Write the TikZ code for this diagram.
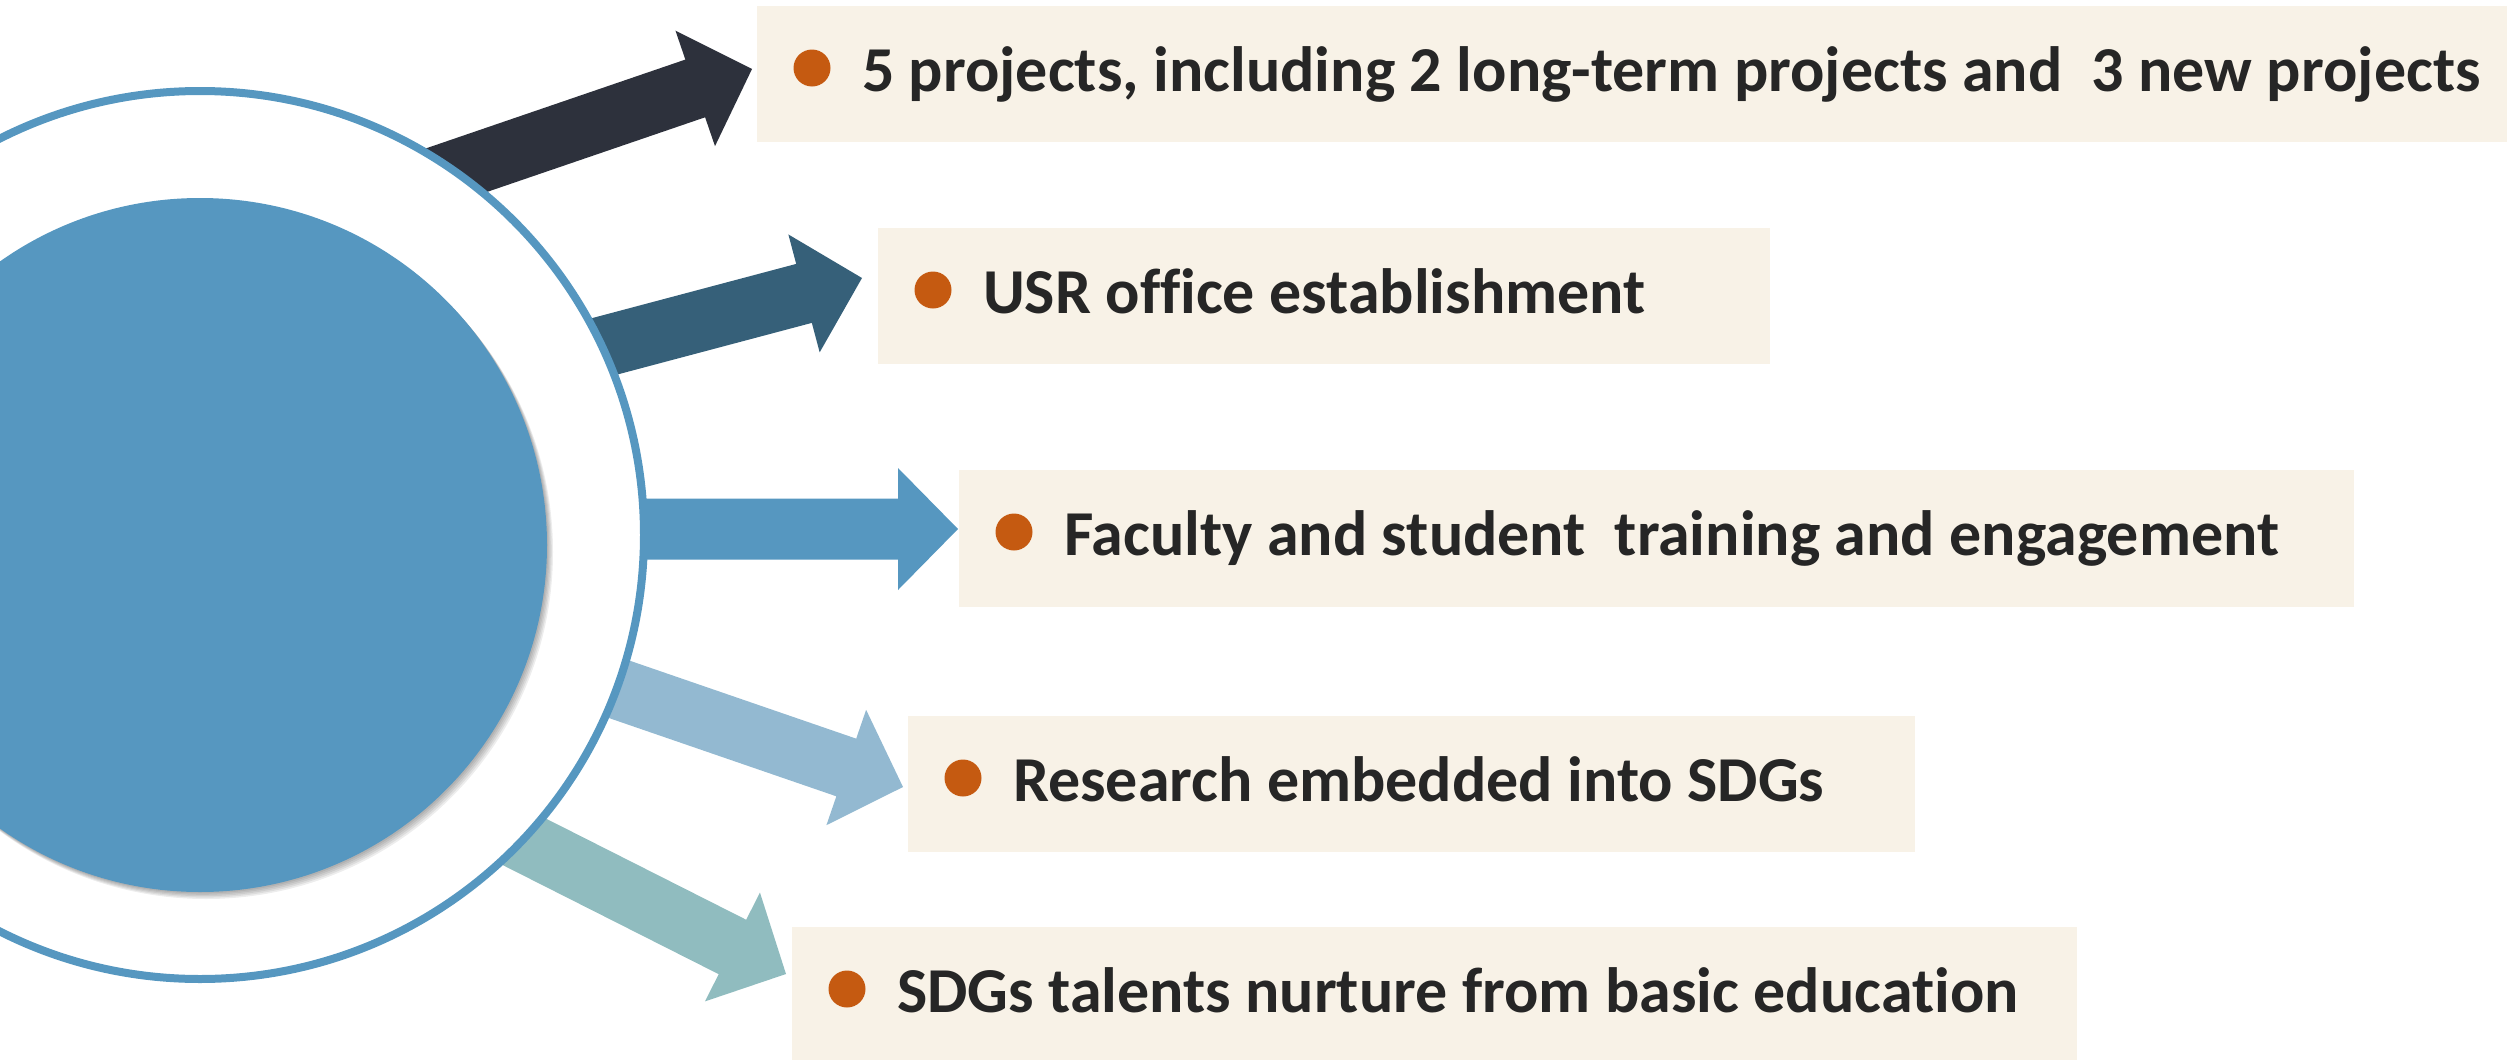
\documentclass[tikz,border=0pt]{standalone}
\usepackage{fontspec}
\setmainfont{Carlito}[Ligatures=NoCommon]
\usetikzlibrary{calc}
\definecolor{hubblue}{HTML}{5697C0}
\definecolor{darkar}{HTML}{2D313C}
\definecolor{tealar}{HTML}{366079}
\definecolor{lightar}{HTML}{93B9D1}
\definecolor{greenar}{HTML}{90BCBF}
\definecolor{boxfill}{HTML}{F8F2E7}
\definecolor{dotorange}{HTML}{C55A11}
\definecolor{txtgray}{HTML}{262626}
\newcommand\blockarrow[3]{%
  \coordinate (ha) at ($(#2)!60pt!(#1)$);
  \fill[#3] ($(#1)!30.5pt!90:(#2)$) -- ($(ha)!30.5pt!90:(#2)$) -- ($(ha)!61pt!90:(#2)$) -- (#2)
    -- ($(ha)!61pt!-90:(#2)$) -- ($(ha)!30.5pt!-90:(#2)$) -- ($(#1)!30.5pt!-90:(#2)$) -- cycle;
}
\tikzset{
  box/.style={fill=boxfill, draw=none, rectangle, inner sep=0pt, outer sep=0pt, anchor=north west, minimum height=136pt},
  bulletdot/.style={circle, fill=dotorange, inner sep=0pt, outer sep=0pt, minimum size=37pt},
  txt/.style={anchor=base west, inner sep=0pt, outer sep=0pt, text=txtgray, font=\fontsize{64}{76}\selectfont\bfseries},
}
\begin{document}
\begin{tikzpicture}[x=1pt, y=-1pt]
\useasboundingbox (0,0) rectangle (2514,1060);
\clip (0,0) rectangle (2514,1060);
% boxes
\node[box, minimum width=1750pt] (b1) at (757,6) {};
\node[box, minimum width=892pt] (b2) at (878,228) {};
\node[box, minimum width=1395pt, minimum height=137pt] (b3) at (959,470) {};
\node[box, minimum width=1007pt] (b4) at (908,716) {};
\node[box, minimum width=1285pt] (b5) at (792,927) {};
% bullets and texts
\foreach \i in {1,...,5}{
  \node[bulletdot] (d\i) at ($(b\i.north west)+(55,62)$) {};
}
\node[txt] (l1) at ($(b1.north west)+(105,85)$) {5 projects, including 2 long-term projects and~ 3 new projects};
\node[txt] (l2) at ($(b2.north west)+(105,85)$) {USR office establishment};
\node[txt] (l3) at ($(b3.north west)+(105,85)$) {Faculty and student~ training and engagement};
\node[txt] (l4) at ($(b4.north west)+(105,85)$) {Research embedded into SDGs};
\node[txt] (l5) at ($(b5.north west)+(105,85)$) {SDGs talents nurture from basic education};
% arrow ends
\coordinate (t1) at (232,247);
\coordinate (t2) at (331,419);
\coordinate (t3) at (400,529);
\coordinate (t4) at (383,608);
\coordinate (t5) at (295,726);
\coordinate (p1) at ($(b1.west)+(-5,-5)$);
\coordinate (p2) at ($(b2.west)+(-16,-18)$);
\coordinate (p3) at ($(b3.west)+(-1,-9.5)$);
\coordinate (p4) at ($(b4.west)+(-5,3)$);
\coordinate (p5) at ($(b5.west)+(-6,-21)$);
\begin{scope}[even odd rule]
  \clip (0,0) rectangle (2514,1060) (200,535) circle (444);
  \blockarrow{t1}{p1}{darkar}
  \blockarrow{t2}{p2}{tealar}
  \blockarrow{t3}{p3}{hubblue}
  \blockarrow{t4}{p4}{lightar}
  \blockarrow{t5}{p5}{greenar}
\end{scope}
% ring
\node[circle, draw=hubblue, line width=8pt, minimum size=888pt, inner sep=0pt, outer sep=0pt] (ring) at (200,535) {};
% hub with soft shadow
\foreach \k in {1,...,5}{
  \fill[black, opacity=0.07] (200+1.2*\k, 545+1.4*\k) circle (347);
}
\node[circle, fill=hubblue, minimum size=694pt, inner sep=0pt, outer sep=0pt] (hub) at (200,545) {};
\end{tikzpicture}
\end{document}
